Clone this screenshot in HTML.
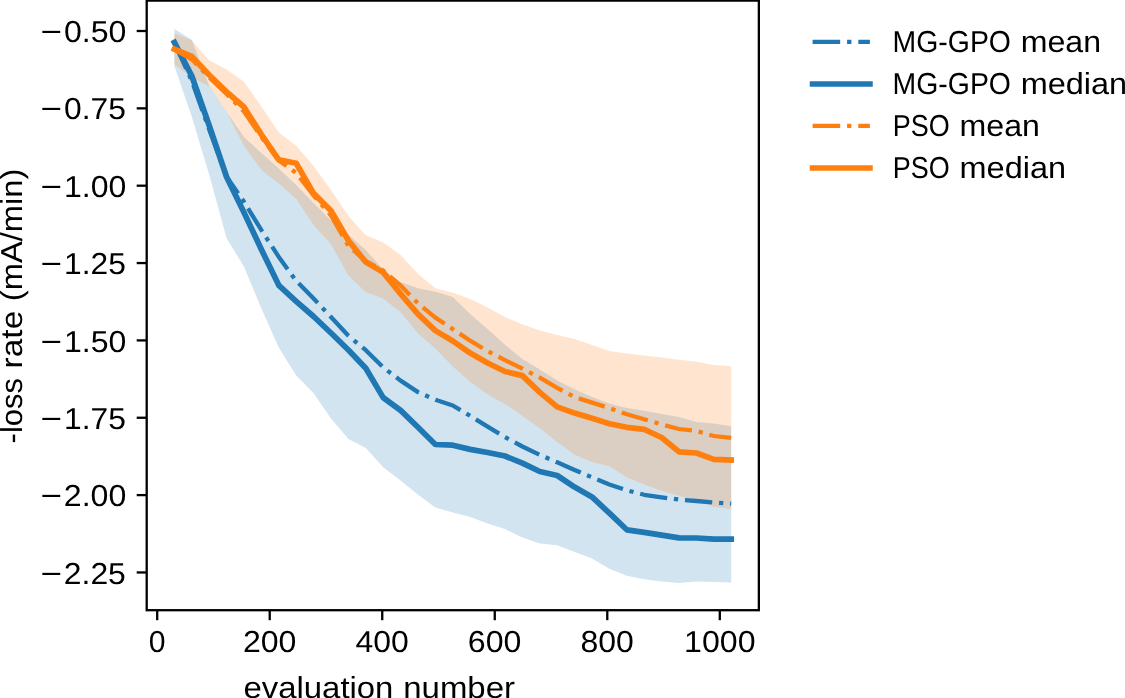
<!DOCTYPE html>
<html lang="en">
<head>
<meta charset="utf-8">
<title>loss rate vs evaluation number</title>
<style>
html,body{margin:0;padding:0;background:#fff;}
body{width:1125px;height:698px;overflow:hidden;}
svg{display:block;will-change:transform;}
text{font-family:"Liberation Sans",sans-serif;font-size:30.30px;fill:#000;text-rendering:geometricPrecision;}
</style>
</head>
<body>
<svg width="1125" height="698" viewBox="0 0 1125 698">
<rect x="0" y="0" width="1125" height="698" fill="#ffffff"/>
<polygon points="174.4,28.9 191.8,39.7 209.2,85.8 226.6,112.0 244.0,137.0 261.4,153.0 278.8,168.5 296.2,185.0 313.6,203.0 331.0,220.5 348.4,234.7 365.8,250.0 383.2,269.6 400.6,282.0 418.0,288.2 435.4,291.8 452.8,297.1 470.2,314.0 487.6,329.0 505.0,344.7 522.4,358.9 539.8,369.6 557.2,380.6 574.6,389.3 592.0,397.0 609.4,403.4 626.8,408.1 644.2,410.8 661.6,414.0 679.0,417.0 696.4,422.1 713.8,423.6 731.2,426.2 731.2,582.5 713.8,582.0 696.4,581.6 679.0,582.9 661.6,581.5 644.2,579.3 626.8,575.8 609.4,568.7 592.0,558.5 574.6,552.0 557.2,545.2 539.8,543.6 522.4,537.4 505.0,529.1 487.6,523.6 470.2,516.9 452.8,512.4 435.4,507.5 418.0,494.7 400.6,480.4 383.2,467.2 365.8,448.1 348.4,438.9 331.0,418.4 313.6,393.3 296.2,375.6 278.8,347.6 261.4,308.4 244.0,266.7 226.6,238.2 209.2,174.7 191.8,116.7 174.4,65.9" fill="#1f77b4" fill-opacity="0.2"/>
<polygon points="174.4,33.2 191.8,40.6 209.2,60.2 226.6,69.5 244.0,81.7 261.4,106.5 278.8,132.5 296.2,145.8 313.6,166.0 331.0,190.0 348.4,216.0 365.8,235.3 383.2,242.4 400.6,255.1 418.0,274.0 435.4,288.2 452.8,292.7 470.2,298.9 487.6,307.4 505.0,317.1 522.4,324.2 539.8,330.4 557.2,334.9 574.6,339.0 592.0,345.0 609.4,351.0 626.8,353.6 644.2,355.4 661.6,357.6 679.0,359.7 696.4,361.7 713.8,364.9 731.2,366.3 731.2,509.0 713.8,506.7 696.4,501.3 679.0,495.8 661.6,490.7 644.2,484.6 626.8,477.3 609.4,466.3 592.0,462.1 574.6,454.7 557.2,442.1 539.8,428.2 522.4,415.8 505.0,403.9 487.6,394.4 470.2,381.8 452.8,366.5 435.4,348.5 418.0,333.5 400.6,312.2 383.2,298.5 365.8,292.3 348.4,275.5 331.0,244.3 313.6,225.0 296.2,199.0 278.8,183.6 261.4,170.0 244.0,146.0 226.6,112.0 209.2,86.6 191.8,77.5 174.4,64.5" fill="#ff7f0e" fill-opacity="0.2"/>
<polyline points="174.4,42.6 191.8,81.0 209.2,129.5 226.6,176.6 244.0,201.8 261.4,230.2 278.8,256.9 296.2,280.9 313.6,298.5 331.0,317.0 348.4,335.7 365.8,350.2 383.2,367.4 400.6,380.6 418.0,392.1 435.4,399.8 452.8,405.5 470.2,415.8 487.6,426.6 505.0,437.1 522.4,446.5 539.8,454.9 557.2,462.3 574.6,470.0 592.0,477.3 609.4,484.4 626.8,490.3 644.2,494.8 661.6,497.3 679.0,499.6 696.4,501.0 713.8,502.4 731.2,503.6" fill="none" stroke="#1f77b4" stroke-width="4.27" stroke-linejoin="round" stroke-dasharray="27.33 6.83 4.27 6.83" stroke-dashoffset="-1.2" stroke-linecap="butt"/>
<polyline points="174.4,42.4 191.8,76.0 209.2,125.5 226.6,177.0 244.0,212.5 261.4,249.5 278.8,285.3 296.2,301.3 313.6,316.5 331.0,333.0 348.4,350.0 365.8,368.3 383.2,397.6 400.6,410.4 418.0,427.3 435.4,444.5 452.8,445.2 470.2,449.4 487.6,452.5 505.0,456.0 522.4,463.2 539.8,471.5 557.2,475.5 574.6,487.1 592.0,496.9 609.4,513.2 626.8,529.8 644.2,532.4 661.6,535.1 679.0,537.8 696.4,538.0 713.8,539.2 731.2,539.2" fill="none" stroke="#1f77b4" stroke-width="5.72" stroke-linejoin="round" stroke-linecap="square"/>
<polyline points="174.4,49.5 191.8,59.3 209.2,77.5 226.6,94.0 244.0,111.5 261.4,137.1 278.8,160.4 296.2,172.9 313.6,195.5 331.0,215.5 348.4,246.0 365.8,261.0 383.2,270.5 400.6,285.6 418.0,303.3 435.4,317.6 452.8,329.1 470.2,340.7 487.6,351.2 505.0,360.1 522.4,368.7 539.8,377.6 557.2,387.9 574.6,397.1 592.0,402.6 609.4,408.1 626.8,414.3 644.2,419.2 661.6,424.4 679.0,429.0 696.4,431.0 713.8,436.0 731.2,437.8" fill="none" stroke="#ff7f0e" stroke-width="4.27" stroke-linejoin="round" stroke-dasharray="27.33 6.83 4.27 6.83" stroke-dashoffset="-0.3" stroke-linecap="butt"/>
<polyline points="174.4,49.2 191.8,56.5 209.2,75.0 226.6,91.8 244.0,107.0 261.4,134.6 278.8,159.8 296.2,163.2 313.6,193.4 331.0,210.7 348.4,240.5 365.8,262.1 383.2,272.4 400.6,293.9 418.0,314.2 435.4,330.6 452.8,341.0 470.2,353.1 487.6,363.0 505.0,371.5 522.4,375.6 539.8,392.4 557.2,406.9 574.6,413.1 592.0,418.3 609.4,423.7 626.8,427.3 644.2,429.3 661.6,437.5 679.0,451.8 696.4,453.0 713.8,459.4 731.2,460.0" fill="none" stroke="#ff7f0e" stroke-width="5.72" stroke-linejoin="round" stroke-linecap="square"/>
<line x1="157.20" y1="610.20" x2="157.20" y2="620.20" stroke="#000" stroke-width="2.3"/>
<line x1="269.72" y1="610.20" x2="269.72" y2="620.20" stroke="#000" stroke-width="2.3"/>
<line x1="382.24" y1="610.20" x2="382.24" y2="620.20" stroke="#000" stroke-width="2.3"/>
<line x1="494.76" y1="610.20" x2="494.76" y2="620.20" stroke="#000" stroke-width="2.3"/>
<line x1="607.28" y1="610.20" x2="607.28" y2="620.20" stroke="#000" stroke-width="2.3"/>
<line x1="719.80" y1="610.20" x2="719.80" y2="620.20" stroke="#000" stroke-width="2.3"/>
<line x1="136.70" y1="31.00" x2="146.70" y2="31.00" stroke="#000" stroke-width="2.3"/>
<line x1="136.70" y1="108.35" x2="146.70" y2="108.35" stroke="#000" stroke-width="2.3"/>
<line x1="136.70" y1="185.70" x2="146.70" y2="185.70" stroke="#000" stroke-width="2.3"/>
<line x1="136.70" y1="263.05" x2="146.70" y2="263.05" stroke="#000" stroke-width="2.3"/>
<line x1="136.70" y1="340.40" x2="146.70" y2="340.40" stroke="#000" stroke-width="2.3"/>
<line x1="136.70" y1="417.75" x2="146.70" y2="417.75" stroke="#000" stroke-width="2.3"/>
<line x1="136.70" y1="495.10" x2="146.70" y2="495.10" stroke="#000" stroke-width="2.3"/>
<line x1="136.70" y1="572.45" x2="146.70" y2="572.45" stroke="#000" stroke-width="2.3"/>
<rect x="146.70" y="0.60" width="612.15" height="609.60" fill="none" stroke="#000" stroke-width="2.3" stroke-linejoin="miter"/>
<text><tspan x="148.81" y="652.00" textLength="16.77" lengthAdjust="spacingAndGlyphs">0</tspan></text>
<text><tspan x="242.91" y="652.00" textLength="53.46" lengthAdjust="spacingAndGlyphs">200</tspan></text>
<text><tspan x="355.61" y="652.00" textLength="53.27" lengthAdjust="spacingAndGlyphs">400</tspan></text>
<text><tspan x="467.83" y="652.00" textLength="53.58" lengthAdjust="spacingAndGlyphs">600</tspan></text>
<text><tspan x="580.54" y="652.00" textLength="53.39" lengthAdjust="spacingAndGlyphs">800</tspan></text>
<text><tspan x="684.10" y="652.00" textLength="71.44" lengthAdjust="spacingAndGlyphs">1000</tspan></text>
<text><tspan x="40.57" y="42.10" textLength="21.52" lengthAdjust="spacingAndGlyphs">−</tspan><tspan x="63.95" y="42.10" textLength="62.40" lengthAdjust="spacingAndGlyphs">0.50</tspan></text>
<text><tspan x="40.57" y="119.45" textLength="21.52" lengthAdjust="spacingAndGlyphs">−</tspan><tspan x="63.96" y="119.45" textLength="61.87" lengthAdjust="spacingAndGlyphs">0.75</tspan></text>
<text><tspan x="40.57" y="196.80" textLength="21.52" lengthAdjust="spacingAndGlyphs">−</tspan><tspan x="64.02" y="196.80" textLength="62.33" lengthAdjust="spacingAndGlyphs">1.00</tspan></text>
<text><tspan x="40.57" y="274.15" textLength="21.52" lengthAdjust="spacingAndGlyphs">−</tspan><tspan x="64.04" y="274.15" textLength="61.79" lengthAdjust="spacingAndGlyphs">1.25</tspan></text>
<text><tspan x="40.57" y="351.50" textLength="21.52" lengthAdjust="spacingAndGlyphs">−</tspan><tspan x="64.02" y="351.50" textLength="62.33" lengthAdjust="spacingAndGlyphs">1.50</tspan></text>
<text><tspan x="40.57" y="428.85" textLength="21.52" lengthAdjust="spacingAndGlyphs">−</tspan><tspan x="64.04" y="428.85" textLength="61.79" lengthAdjust="spacingAndGlyphs">1.75</tspan></text>
<text><tspan x="40.57" y="506.20" textLength="21.52" lengthAdjust="spacingAndGlyphs">−</tspan><tspan x="63.80" y="506.20" textLength="62.56" lengthAdjust="spacingAndGlyphs">2.00</tspan></text>
<text><tspan x="40.57" y="583.55" textLength="21.52" lengthAdjust="spacingAndGlyphs">−</tspan><tspan x="63.81" y="583.55" textLength="62.03" lengthAdjust="spacingAndGlyphs">2.25</tspan></text>
<text><tspan x="243.48" y="698.00" textLength="149.95" lengthAdjust="spacingAndGlyphs">evaluation</tspan> <tspan x="403.23" y="698.00" textLength="111.76" lengthAdjust="spacingAndGlyphs">number</tspan></text>
<text transform="translate(22.0 443.4) rotate(-90)"><tspan x="0.02" y="0.00" textLength="65.26" lengthAdjust="spacingAndGlyphs">-loss</tspan> <tspan x="75.03" y="0.00" textLength="57.68" lengthAdjust="spacingAndGlyphs">rate</tspan> <tspan x="142.27" y="0.00" textLength="132.44" lengthAdjust="spacingAndGlyphs">(mA/min)</tspan></text>
<line x1="812.6" y1="41.90" x2="869.9" y2="41.90" stroke="#1f77b4" stroke-width="4.31" stroke-dasharray="27.58 6.90 4.31 6.90"/>
<text><tspan x="892.58" y="52.10" textLength="118.35" lengthAdjust="spacingAndGlyphs">MG-GPO</tspan> <tspan x="1020.74" y="52.10" textLength="80.30" lengthAdjust="spacingAndGlyphs">mean</tspan></text>
<line x1="812.6" y1="84.00" x2="869.9" y2="84.00" stroke="#1f77b4" stroke-width="5.72" stroke-linecap="square"/>
<text><tspan x="892.58" y="94.00" textLength="118.35" lengthAdjust="spacingAndGlyphs">MG-GPO</tspan> <tspan x="1020.71" y="94.00" textLength="106.44" lengthAdjust="spacingAndGlyphs">median</tspan></text>
<line x1="812.6" y1="125.80" x2="869.9" y2="125.80" stroke="#ff7f0e" stroke-width="4.31" stroke-dasharray="27.58 6.90 4.31 6.90"/>
<text><tspan x="892.69" y="135.90" textLength="57.01" lengthAdjust="spacingAndGlyphs">PSO</tspan> <tspan x="959.57" y="135.90" textLength="80.30" lengthAdjust="spacingAndGlyphs">mean</tspan></text>
<line x1="812.6" y1="168.00" x2="869.9" y2="168.00" stroke="#ff7f0e" stroke-width="5.72" stroke-linecap="square"/>
<text><tspan x="892.69" y="177.90" textLength="57.01" lengthAdjust="spacingAndGlyphs">PSO</tspan> <tspan x="959.55" y="177.90" textLength="106.44" lengthAdjust="spacingAndGlyphs">median</tspan></text>
</svg>
</body>
</html>
